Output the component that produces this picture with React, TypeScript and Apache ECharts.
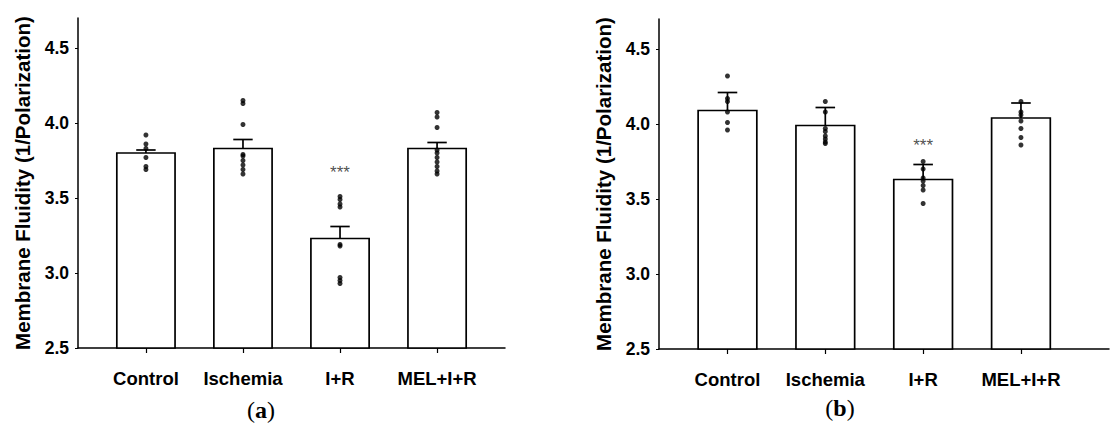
import React, { useEffect, useRef } from "react";
import * as echarts from "echarts";

const categories = ["Control", "Ischemia", "I+R", "MEL+I+R"];
const yTicks = [2.5, 3.0, 3.5, 4.0, 4.5];
const catPositions = [1, 2, 3, 4];

// Panel (a)
const meansA = [3.8, 3.83, 3.23, 3.83];
const semA = [0.02, 0.06, 0.08, 0.04];
const dotsA_control = [3.92, 3.86, 3.83, 3.77, 3.71, 3.69];
const dotsA_ischemia = [4.15, 4.13, 3.99, 3.79, 3.78, 3.75, 3.72, 3.69, 3.66];
const dotsA_ir = [3.51, 3.49, 3.46, 3.44, 3.19, 3.18, 2.97, 2.95, 2.93];
const dotsA_mel = [4.07, 4.04, 3.97, 3.82, 3.8, 3.77, 3.74, 3.71, 3.68, 3.66];
const starsA = 3.67;

// Panel (b)
const meansB = [4.09, 3.99, 3.63, 4.04];
const semB = [0.12, 0.12, 0.1, 0.1];
const dotsB_control = [4.32, 4.17, 4.15, 4.08, 4.01, 3.96];
const dotsB_ischemia = [4.15, 4.08, 3.97, 3.95, 3.92, 3.9, 3.88, 3.87];
const dotsB_ir = [3.75, 3.7, 3.64, 3.62, 3.59, 3.56, 3.47];
const dotsB_mel = [4.15, 4.08, 4.06, 4.02, 3.97, 3.91, 3.86];
const starsB = 3.86;

const FONT = "'Liberation Sans', Arial, sans-serif";
const SERIF = "'Liberation Serif', 'DejaVu Serif', serif";

function barData(means: number[], sem: number[]) {
  return means.map((m, i) => [catPositions[i], m, sem[i]]);
}
function dotData(groups: number[][]) {
  const out: number[][] = [];
  groups.forEach((g, i) => g.forEach((v) => out.push([catPositions[i], v])));
  return out;
}

function makeAxes(gridIndex: number, xMax: number) {
  const xAxis = {
    type: "value",
    gridIndex,
    min: 0.3,
    max: xMax,
    splitLine: { show: false },
    axisLine: { show: true, onZero: false, lineStyle: { color: "#000", width: 1.5 } },
    axisTick: { show: true, customValues: catPositions, length: 5, lineStyle: { color: "#000", width: 1.2 } },
    axisLabel: {
      customValues: catPositions,
      formatter: (v: number) => categories[Math.round(v) - 1] || "",
      fontFamily: FONT,
      fontWeight: "bold",
      fontSize: 18.5,
      color: "#000",
      margin: 21,
    },
  };
  const yAxis = {
    type: "value",
    gridIndex,
    min: 2.5,
    max: 4.7,
    interval: 0.5,
    name: "Membrane Fluidity (1/Polarization)",
    nameLocation: "middle",
    nameRotate: 90,
    nameGap: 45,
    nameTextStyle: { fontFamily: FONT, fontWeight: "bold", fontSize: 20.5, color: "#000" },
    splitLine: { show: false },
    axisLine: { show: true, onZero: false, lineStyle: { color: "#000", width: 1.5 } },
    axisTick: { show: true, customValues: yTicks, length: 3, lineStyle: { color: "#000", width: 1 } },
    axisLabel: {
      customValues: yTicks,
      formatter: (v: number) => v.toFixed(1),
      fontFamily: FONT,
      fontWeight: "bold",
      fontSize: 17.5,
      color: "#000",
      margin: 9,
    },
  };
  return { xAxis, yAxis };
}

function barSeries(idx: number, data: number[][]) {
  return {
    type: "custom",
    xAxisIndex: idx,
    yAxisIndex: idx,
    data,
    z: 2,
    renderItem: (_p: any, api: any) => {
      const x = api.value(0);
      const m = api.value(1);
      const e = api.value(2);
      const base = api.coord([x, 2.5]);
      const top = api.coord([x, m]);
      const errTop = api.coord([x, m + e]);
      const w = api.size([0.6, 0])[0];
      const cap = api.size([0.2, 0])[0] / 2;
      const stroke = { stroke: "#000", lineWidth: 1.7, fill: null };
      return {
        type: "group",
        children: [
          { type: "rect", shape: { x: top[0] - w / 2, y: top[1], width: w, height: base[1] - top[1] }, style: { fill: "#fff", stroke: "#000", lineWidth: 1.7 } },
          { type: "line", shape: { x1: top[0], y1: top[1], x2: errTop[0], y2: errTop[1] }, style: stroke },
          { type: "line", shape: { x1: top[0] - cap, y1: errTop[1], x2: top[0] + cap, y2: errTop[1] }, style: stroke },
        ],
      };
    },
  };
}

function dotSeries(idx: number, data: number[][]) {
  return {
    type: "scatter",
    xAxisIndex: idx,
    yAxisIndex: idx,
    data,
    symbolSize: 5,
    itemStyle: { color: "#000" },
    z: 5,
  };
}

function starSeries(idx: number, y: number) {
  return {
    type: "scatter",
    xAxisIndex: idx,
    yAxisIndex: idx,
    data: [[3, y]],
    symbolSize: 0,
    z: 6,
    label: {
      show: true,
      position: "inside",
      formatter: "***",
      fontFamily: FONT,
      fontSize: 17,
      color: "#222",
    },
  };
}

function panelLabel(letter: string, x: number, y: number) {
  return {
    type: "text",
    x,
    y,
    style: {
      text: "({b|" + letter + "})",
      font: "24px " + SERIF,
      fill: "#000",
      align: "center",
      verticalAlign: "middle",
      rich: { b: { fontWeight: "bold", fontSize: 24, fontFamily: SERIF, fill: "#000" } },
    },
  };
}

export default function App() {
  const ref = useRef<HTMLDivElement>(null);
  useEffect(() => {
    if (!ref.current) return;
    const chart = echarts.init(ref.current, null, { renderer: "svg" });
    const a = makeAxes(0, 4.7);
    const b = makeAxes(1, 4.9);
    chart.setOption({
      animation: false,
      backgroundColor: "#fff",
      grid: [
        { left: 78, top: 18, width: 427, height: 330 },
        { left: 659, top: 19, width: 450, height: 330 },
      ],
      xAxis: [a.xAxis, b.xAxis],
      yAxis: [a.yAxis, b.yAxis],
      series: [
        barSeries(0, barData(meansA, semA)),
        dotSeries(0, dotData([dotsA_control, dotsA_ischemia, dotsA_ir, dotsA_mel])),
        starSeries(0, starsA),
        barSeries(1, barData(meansB, semB)),
        dotSeries(1, dotData([dotsB_control, dotsB_ischemia, dotsB_ir, dotsB_mel])),
        starSeries(1, starsB),
      ],
      graphic: [panelLabel("a", 261, 410), panelLabel("b", 840, 408)],
    });
    return () => chart.dispose();
  }, []);
  return (
    <div
      ref={ref}
      style={{ position: "fixed", left: 0, top: 0, width: 1111, height: 424, background: "#fff" }}
    />
  );
}
